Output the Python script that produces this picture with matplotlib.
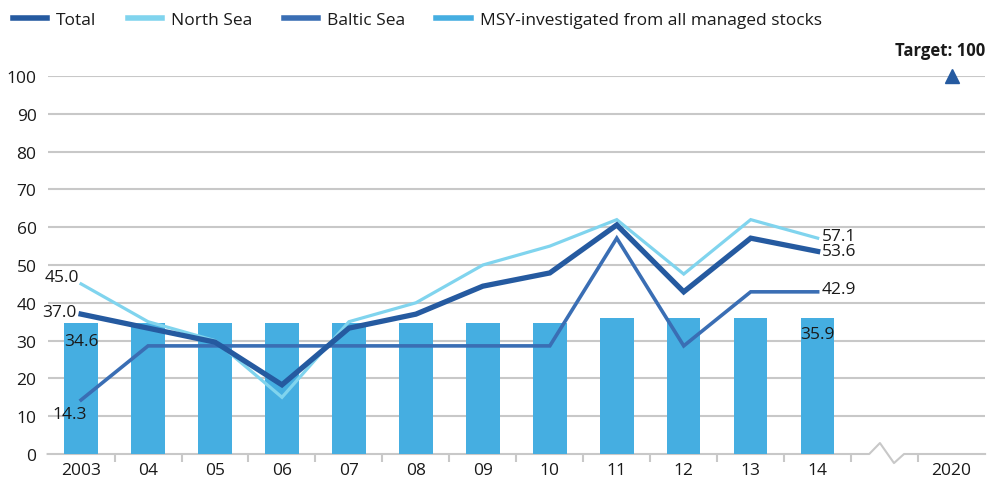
import matplotlib
matplotlib.use("Agg")
import matplotlib.pyplot as plt
from matplotlib.lines import Line2D

plt.rcParams['font.family'] = ['Open Sans', 'DejaVu Sans']

years = ["2003", "04", "05", "06", "07", "08", "09", "10", "11", "12", "13", "14", "", "2020"]
total = [37.0, 33.3, 29.6, 18.3, 33.3, 37.0, 44.4, 47.9, 60.6, 42.9, 57.1, 53.6]
north_sea = [45.0, 35.0, 30.0, 15.0, 35.0, 40.0, 50.0, 55.0, 62.0, 47.6, 62.0, 57.1]
baltic_sea = [14.3, 28.6, 28.6, 28.6, 28.6, 28.6, 28.6, 28.6, 57.1, 28.6, 42.9, 42.9]
msy_share = [34.6, 34.6, 34.6, 34.6, 34.6, 34.6, 34.6, 34.6, 35.9, 35.9, 35.9, 35.9]
target = 100

c_total = "#255AA0"
c_north = "#80D4EE"
c_baltic = "#3A6EB4"
c_bar = "#45AEE1"
c_grid = "#C8C8C8"
c_text = "#1A1A1A"

fig = plt.figure(figsize=(9.92, 4.81), dpi=100)
ax = fig.add_axes([0.048, 1 - 455 / 481, 0.945, (455 - 77) / 481])

x = list(range(len(total)))
ax.bar(x, msy_share, width=0.5, color=c_bar, zorder=2)
ax.plot(x, baltic_sea, color=c_baltic, lw=2.6, zorder=3, solid_joinstyle="miter")
ax.plot(x, north_sea, color=c_north, lw=2.3, zorder=4, solid_joinstyle="miter")
ax.plot(x, total, color=c_total, lw=3.8, zorder=5, solid_joinstyle="miter")

# target marker at 2020
xt = len(years) - 1
ax.plot([xt], [target], marker="^", ms=10, color=c_total, clip_on=False, zorder=6)
ax.text(len(years) - 0.5, target + 4.5, "Target: 100", ha="right", va="bottom",
        fontsize=12, fontweight="bold", color=c_text)

ax.set_xlim(-0.5, len(years) - 0.5)
ax.set_ylim(0, 100)
ax.set_yticks(range(0, 101, 10))
ax.set_xticks(range(len(years)))
ax.set_xticklabels(years)
ax.set_xticks([i + 0.5 for i in range(len(years) - 1)], minor=True)
ax.tick_params(axis="x", which="major", length=0, pad=6, labelsize=12.5, labelcolor=c_text)
ax.tick_params(axis="x", which="minor", length=6, width=1.5, color=c_grid)
ax.tick_params(axis="y", length=0, pad=8, labelsize=12.5, labelcolor=c_text)
for s in ax.spines.values():
    s.set_visible(False)
ax.yaxis.grid(True, color=c_grid, lw=1.5, zorder=0)
ax.set_axisbelow(True)
for gl in ax.get_ygridlines()[:1]:
    gl.set_visible(False)

# baseline with a zigzag break before 2020
bx = [-0.5, 11.77, 11.93, 12.14, 12.29, len(years) - 0.5]
by = [0, 0, 2.9, -2.4, 0, 0]
ax.plot(bx, by, color=c_grid, lw=1.5, clip_on=False, zorder=1)

# value labels
lab = dict(fontsize=12.5, color=c_text, zorder=7, textcoords="offset points")
ax.annotate(f"{north_sea[0]:.1f}", (0, north_sea[0]), xytext=(-1.5, 5), ha="right", va="center", **lab)
ax.annotate(f"{total[0]:.1f}", (0, total[0]), xytext=(-3, 1.5), ha="right", va="center", **lab)
ax.annotate(f"{msy_share[0]:.1f}", (0, msy_share[0]), xytext=(0, -12.5), ha="center", va="center", **lab)
ax.annotate(f"{baltic_sea[0]:.1f}", (0, baltic_sea[0]), xytext=(-8, -10), ha="center", va="center", **lab)
last = len(total) - 1
ax.annotate(f"{north_sea[-1]:.1f}", (last, north_sea[-1]), xytext=(3, 1.5), ha="left", va="center", **lab)
ax.annotate(f"{total[-1]:.1f}", (last, total[-1]), xytext=(3, 0), ha="left", va="center", **lab)
ax.annotate(f"{baltic_sea[-1]:.1f}", (last, baltic_sea[-1]), xytext=(3, 2), ha="left", va="center", **lab)
ax.annotate(f"{msy_share[-1]:.1f}", (last, msy_share[-1]), xytext=(0, -11), ha="center", va="center", **lab)

handles = [
    Line2D([], [], color=c_total, lw=4),
    Line2D([], [], color=c_north, lw=4),
    Line2D([], [], color=c_baltic, lw=4),
    Line2D([], [], color=c_bar, lw=4),
]
labels = ["Total", "North Sea", "Baltic Sea", "MSY-investigated from all managed stocks"]
fig.legend(handles, labels, loc="upper left", bbox_to_anchor=(-0.003, 1.005), ncol=4,
           frameon=False, fontsize=12.5, handlelength=2.0, handletextpad=0.5,
           columnspacing=1.8, labelcolor=c_text)

fig.savefig("out.png", dpi=100)
